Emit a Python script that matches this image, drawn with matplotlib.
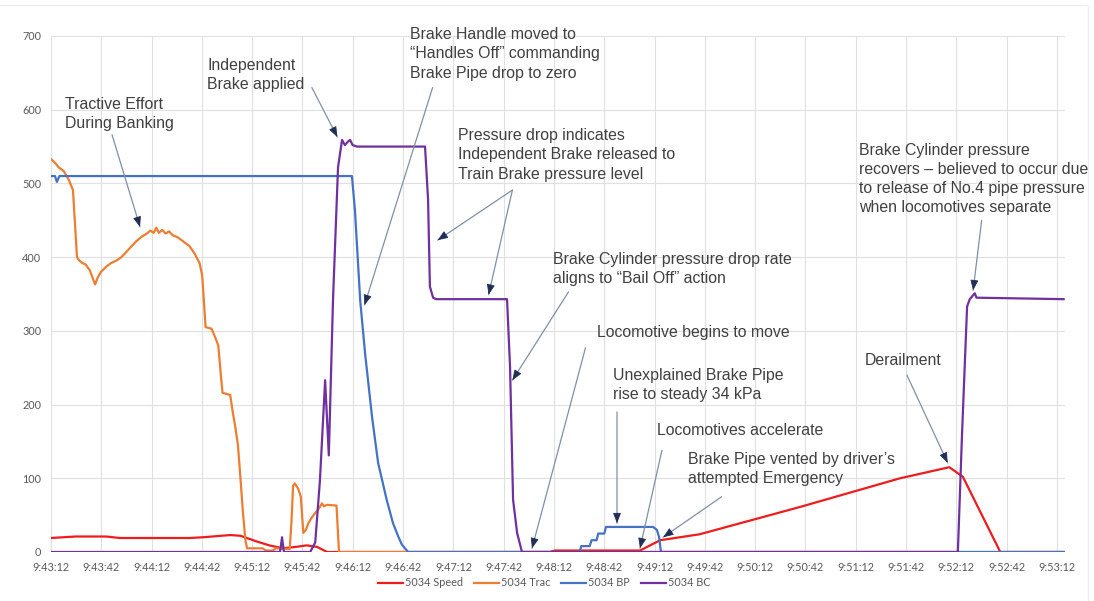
import matplotlib.pyplot as plt
import numpy as np
from matplotlib.ticker import MultipleLocator, FuncFormatter
from matplotlib.lines import Line2D

# tiempo en segundos desde 9:43:12
t_speed = [0, 14.6, 32.9, 41, 82.6, 90.7, 106.9, 113, 123.1, 130.2, 138.3, 146.4, 152.5,
           158.6, 164.7, 297.5, 300.6, 351.3, 363.4, 386.8, 446.6, 506.4, 535.8, 543.9,
           566.2, 604]
v_speed = [19, 21, 21, 19, 19, 20, 23, 22, 14, 9, 5, 7, 9, 7, 0, 0, 2,
           2, 16, 24, 61, 100, 115, 102, 0, 0]

t_trac = [0, 2.4, 4.5, 7.5, 10.6, 13.1, 15.5, 16.6, 18.7, 20.7, 23.2, 24.8, 26.3, 27.8,
          29.8, 33.4, 35.9, 39.5, 42, 45.3, 48.1, 51.1, 54.2, 57.2, 59.2, 61.3, 62.8, 64.3,
          66.3, 68.4, 70.4, 72.4, 75.5, 78.5, 82.6, 85.6, 88.6, 90.2, 91.2, 92.2, 95.7,
          97.8, 99.8, 101.3, 102.3, 106.9, 108.4, 109.9, 111.5, 113, 114.5, 116, 117,
          126.2, 128.2, 132.2, 134.3, 142.4, 143.4, 144.4, 145.4, 147.4, 149, 150.5, 152,
          153.5, 155.6, 157.6, 160.1, 161.6, 162.7, 164.7, 170.3, 171.3, 171.8, 604]
v_trac = [533, 528, 522, 517, 505, 491, 400, 396, 392, 390, 382, 372, 363, 372, 380, 388,
          392, 396, 400, 408, 415, 422, 428, 432, 436, 433, 440, 433, 437, 432, 435, 430,
          427, 422, 415, 405, 392, 375, 340, 305, 303, 292, 280, 240, 216, 213, 190, 170,
          145, 100, 53, 15, 5, 5, 2, 2, 5, 4, 40, 90, 93, 86, 75, 26, 30, 39, 47, 53, 60,
          66, 62, 64, 63, 20, 0, 0]

t_bp = [0, 2.4, 3.5, 5, 179.5, 181.3, 184.4, 187.3, 191.5, 195.1, 200.2, 204, 207.3, 209.3,
        213, 315.3, 316.3, 321.3, 322.4, 325.4, 326.4, 330, 331, 359.1, 361.4, 362.7, 363.8,
        604]
v_bp = [510, 510, 502, 510, 510, 463, 342, 270, 183, 121, 71, 39, 20, 10, 0,
        0, 8, 8, 16, 16, 25, 25, 34, 34, 30, 20, 0, 0]

t_bc = [0, 136.6, 137.8, 138.9, 154.6, 157.6, 160.4, 163.5, 165.7, 168.2, 171.2, 173.6,
        175.3, 177.2, 178.4, 179.9, 182.5, 223.1, 224.9, 226, 227.9, 229.6, 272, 273.8,
        275.6, 278, 280.9, 540.9, 543.4, 546.4, 548, 551, 552, 604]
v_bc = [0, 0, 20, 0, 0, 13, 97, 233, 131, 342, 522, 559, 552, 557, 559, 552, 550, 550, 478,
        360, 345, 343, 343, 251, 71, 26, 0, 0, 161, 333, 343, 351, 345, 343]

series = [
    ('5034 Speed', t_speed, v_speed, '#ee1c1c'),
    ('5034 Trac', t_trac, v_trac, '#ed7d31'),
    ('5034 BP', t_bp, v_bp, '#4472c4'),
    ('5034 BC', t_bc, v_bc, '#7030a0'),
]

# notas: texto, posicion del texto, flechas (origen, destino)
notas = [
    ("Tractive Effort\nDuring Banking", (8.4, 617), [((36.4, 566), (53.1, 441))]),
    ("Independent\nBrake applied", (93.1, 670), [((155.6, 630), (170.8, 563))]),
    ("Brake Handle moved to\n\u201cHandles Off\u201d commanding\nBrake Pipe drop to zero",
     (214.1, 712), [((227.6, 630), (187, 335))]),
    ("Pressure drop indicates\nIndependent Brake released to\nTrain Brake pressure level",
     (242.8, 575), [((275.2, 491), (230.6, 423)), ((275.2, 491), (261, 349))]),
    ("Brake Cylinder pressure drop rate\naligns to \u201cBail Off\u201d action",
     (299.4, 407), [((308.7, 353), (275.2, 233))]),
    ("Locomotive begins to move", (325.7, 308), [((318.8, 277), (286.9, 5))]),
    ("Unexplained Brake Pipe\nrise to steady 34 kPa", (335.2, 250),
     [((337.6, 190), (337.6, 39))]),
    ("Locomotives accelerate", (361.5, 175), [((364.4, 138), (351.3, 5))]),
    ("Brake Pipe vented by driver\u2019s\nattempted Emergency", (380, 136),
     [((400, 75), (365.1, 20))]),
    ("Derailment", (485.5, 270), [((510.5, 240), (534.8, 121))]),
    ("Brake Cylinder pressure\nrecovers \u2013 believed to occur due\nto release of No.4 pipe pressure\nwhen locomotives separate",
     (481.9, 555), [((555.1, 450), (550, 355))]),
]

fuente_ejes = 'Lato'

fig = plt.figure(figsize=(10.94, 6.01), dpi=100)

# borde tenue del cuadro
fig.add_artist(Line2D([0, 1088/1094], [1-5/601, 1-5/601], color='#eeeeee', lw=1, zorder=0))
fig.add_artist(Line2D([1088/1094, 1088/1094], [1-5/601, 0], color='#eeeeee', lw=1, zorder=0))

ax = fig.add_axes([51/1094, 1-552/601, 1013.5/1094, 516/601])
ax.patch.set_alpha(0)

for nombre, t, v, col in series:
    ax.plot(t, v, color=col, lw=1.6, label=nombre, solid_joinstyle='round')

ax.set_xlim(0, 604.5)
ax.set_ylim(0, 700)
ax.xaxis.set_major_locator(MultipleLocator(30))
ax.yaxis.set_major_locator(MultipleLocator(100))

def hora(s, pos):
    s = int(round(s)) + 9*3600 + 43*60 + 12
    return '%d:%02d:%02d' % (s // 3600, (s // 60) % 60, s % 60)

ax.xaxis.set_major_formatter(FuncFormatter(hora))
ax.grid(True, color='#e0e0e0', lw=0.8)
ax.set_axisbelow(True)
for sp in ax.spines.values():
    sp.set_visible(False)
ax.tick_params(length=0, colors='#595959', labelsize=7.8, pad=7)
for lab in ax.get_xticklabels() + ax.get_yticklabels():
    lab.set_family(fuente_ejes)

gris = '#8090a8'
navy = '#1f2f55'
for texto, pos, flechas in notas:
    ax.text(pos[0], pos[1], texto, fontsize=11.4, family='Liberation Sans', color='#404040',
            va='top', ha='left', linespacing=1.35, clip_on=False)
    for ini, fin in flechas:
        ax.annotate('', xy=fin, xytext=ini, annotation_clip=False,
                    arrowprops=dict(arrowstyle='-', color=gris, lw=0.9, shrinkA=0, shrinkB=0))
        p0 = ax.transData.transform(ini)
        p1 = ax.transData.transform(fin)
        d = (p1 - p0) / np.hypot(*(p1 - p0))
        ax.annotate('', xy=fin, xytext=(-d[0]*10, -d[1]*10), textcoords='offset pixels',
                    annotation_clip=False,
                    arrowprops=dict(arrowstyle='-|>,head_length=0.9,head_width=0.35',
                                    mutation_scale=7, color=navy, lw=0.6,
                                    shrinkA=0, shrinkB=0))

leg = fig.legend(loc='center', bbox_to_anchor=(544/1094, 1-583/601), ncol=4, frameon=False,
                 handlelength=2.3, columnspacing=1.0, handletextpad=0.2,
                 prop={'family': fuente_ejes, 'size': 7.8})
for txt in leg.get_texts():
    txt.set_color('#595959')

fig.savefig('out.png', dpi=100)
